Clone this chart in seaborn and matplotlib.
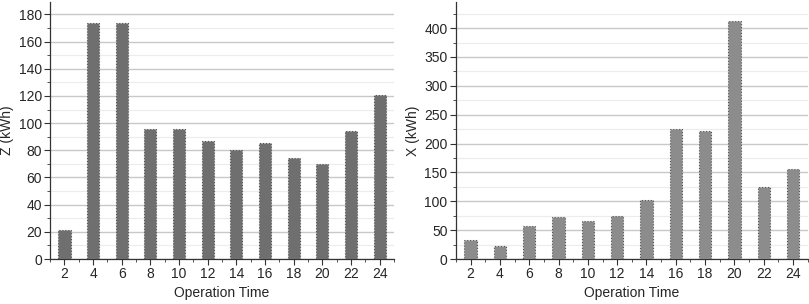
import matplotlib
matplotlib.use("Agg")
import matplotlib.pyplot as plt
import seaborn as sns
import pandas as pd
from matplotlib.ticker import MultipleLocator, AutoMinorLocator, FixedLocator

hours = [2, 4, 6, 8, 10, 12, 14, 16, 18, 20, 22, 24]
z_kwh = [21, 174, 174, 96, 96, 87, 80, 85, 74, 70, 94, 121]
x_kwh = [33, 23, 58, 72, 65, 74, 102, 225, 221, 412, 125, 156]

sns.set_style("white")
plt.rcParams['font.family'] = ['Liberation Sans', 'DejaVu Sans']

df = pd.DataFrame({'hour': [str(h) for h in hours], 'Z': z_kwh, 'X': x_kwh})

fig = plt.figure(figsize=(8.09, 3.04), dpi=100)
ax1 = fig.add_axes([0.062, 0.148, 0.425, 0.845])
ax2 = fig.add_axes([0.5635, 0.148, 0.435, 0.845])

panels = [
    (ax1, 'Z', 'Z (kWh)', '#6f6f6f', 189, 20),
    (ax2, 'X', 'X (kWh)', '#8c8c8c', 445, 50),
]

for ax, col, ylabel, color, ytop, step in panels:
    sns.barplot(data=df, x='hour', y=col, color=color, width=0.42,
                edgecolor='#555555', linewidth=0.8, linestyle=':',
                saturation=1, ax=ax, zorder=3)
    ax.set_xlim(-0.5, 11.5)
    ax.set_ylim(0, ytop)
    ax.yaxis.set_major_locator(MultipleLocator(step))
    ax.yaxis.set_minor_locator(AutoMinorLocator(2))
    ax.xaxis.set_minor_locator(FixedLocator([i + 0.5 for i in range(-1, 12)]))
    ax.grid(True, which='major', axis='y', color='#c8c8c8', linewidth=1.0, zorder=0)
    ax.grid(True, which='minor', axis='y', color='#ececec', linewidth=0.8, zorder=0)
    ax.set_axisbelow(True)
    for s in ['top', 'right']:
        ax.spines[s].set_visible(False)
    for s in ['left', 'bottom']:
        ax.spines[s].set_color('#333333')
        ax.spines[s].set_linewidth(0.9)
    ax.tick_params(axis='both', which='major', direction='out', length=4,
                   width=0.8, color='#333333', labelsize=10, pad=2)
    ax.tick_params(axis='both', which='minor', direction='out', length=2,
                   width=0.6, color='#333333')
    ax.tick_params(axis='x', bottom=True, which='both')
    ax.tick_params(axis='y', left=True, which='both')
    ax.set_xlabel('Operation Time', fontsize=10, labelpad=3)
    ax.set_ylabel(ylabel, fontsize=10, labelpad=3)

fig.savefig('out.png', dpi=100)
